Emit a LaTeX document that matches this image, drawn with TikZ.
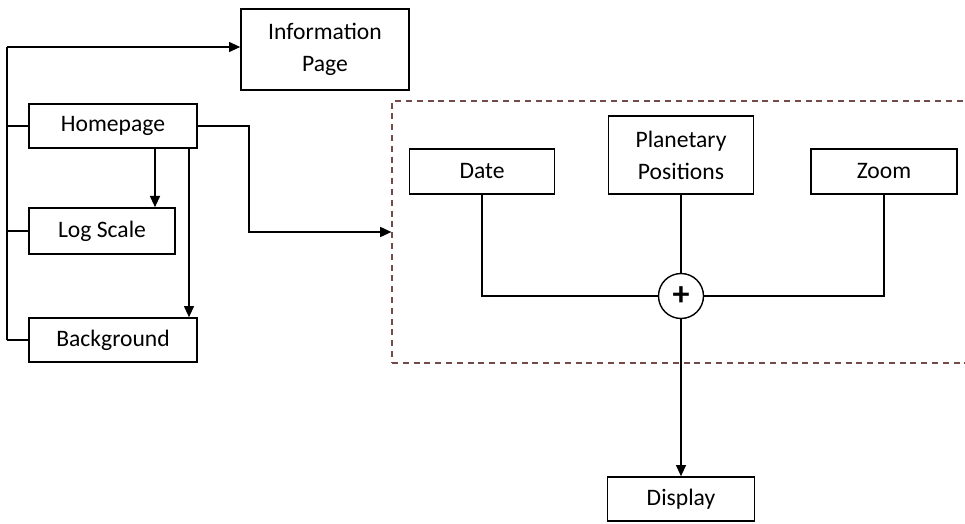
\documentclass[tikz,border=0pt]{standalone}
\usepackage{fontspec}
\setmainfont{Carlito}
\usetikzlibrary{arrows.meta,positioning}

\definecolor{grpred}{RGB}{115,75,75}

\tikzset{
  blk/.style={draw, line width=0.8pt, inner sep=0pt, align=center,
    font=\fontsize{11.8}{16}\selectfont},
  link/.style={line width=0.75pt},
  arr/.style={link, -{Triangle[length=5.6pt,width=5pt]}},
  grp/.style={draw=grpred, line width=0.6pt, dash pattern=on 3pt off 2.4pt},
  sumnode/.style={draw, circle, line width=0.7pt, inner sep=0pt, minimum size=22.5pt,
    font=\fontsize{17}{17}\bfseries\selectfont}
}

\begin{document}
\begin{tikzpicture}[x=0.5pt,y=-0.5pt]
    \clip (0,0) rectangle (965,524);

    % left column
    \node[blk, minimum width=84pt, minimum height=40.5pt] (info) at (325,49.5) {Information\\Page};
    \node[blk, minimum width=84pt, minimum height=22pt] (home) at (113,126) {Homepage};
    \node[blk, minimum width=73pt, minimum height=23pt] (logsc) at (102,231) {Log Scale};
    \node[blk, minimum width=84pt, minimum height=22pt] (back) at (113,340) {Background};
    \coordinate (bustop) at (7,47);
    \coordinate (busbot) at (7,340);

    % dashed group
    \node[grp, minimum width=304pt, minimum height=131pt] (group) at (696,232) {};
    \node[blk, minimum width=72.5pt, minimum height=22.5pt] (date) at (482,171.5) {Date};
    \node[blk, minimum width=72.5pt, minimum height=39pt] (plan) at (681,155) {Planetary\\Positions};
    \node[blk, minimum width=73pt, minimum height=22.5pt] (zoom) at (884,171.5) {Zoom};
    \node[sumnode] (sum) at (681,296) {+};

    \node[blk, minimum width=73.5pt, minimum height=22pt] (disp) at (681,499) {Display};

    % connectors
    \draw[link] (busbot) -- (bustop);
    \draw[arr] (bustop) -- (bustop -| info.west);
    \draw[link] (home.west) -- (home.west -| bustop);
    \draw[link] (logsc.west) -- (logsc.west -| bustop);
    \draw[link] (back.west) -- (busbot);
    \draw[arr] ([xshift=21pt]home.south) -- ([xshift=21pt]home.south |- logsc.north);
    \draw[arr] ([xshift=38pt]home.south) -- ([xshift=38pt]home.south |- back.north);
    \draw[arr] (home.east) -- ++(51,0) |- (group.west);

    \draw[link] (date.south) |- (sum.west);
    \draw[link] (zoom.south) |- (sum.east);
    \draw[link] (plan.south) -- (sum.north);
    \draw[arr] (sum.south) -- (disp.north);
\end{tikzpicture}
\end{document}
